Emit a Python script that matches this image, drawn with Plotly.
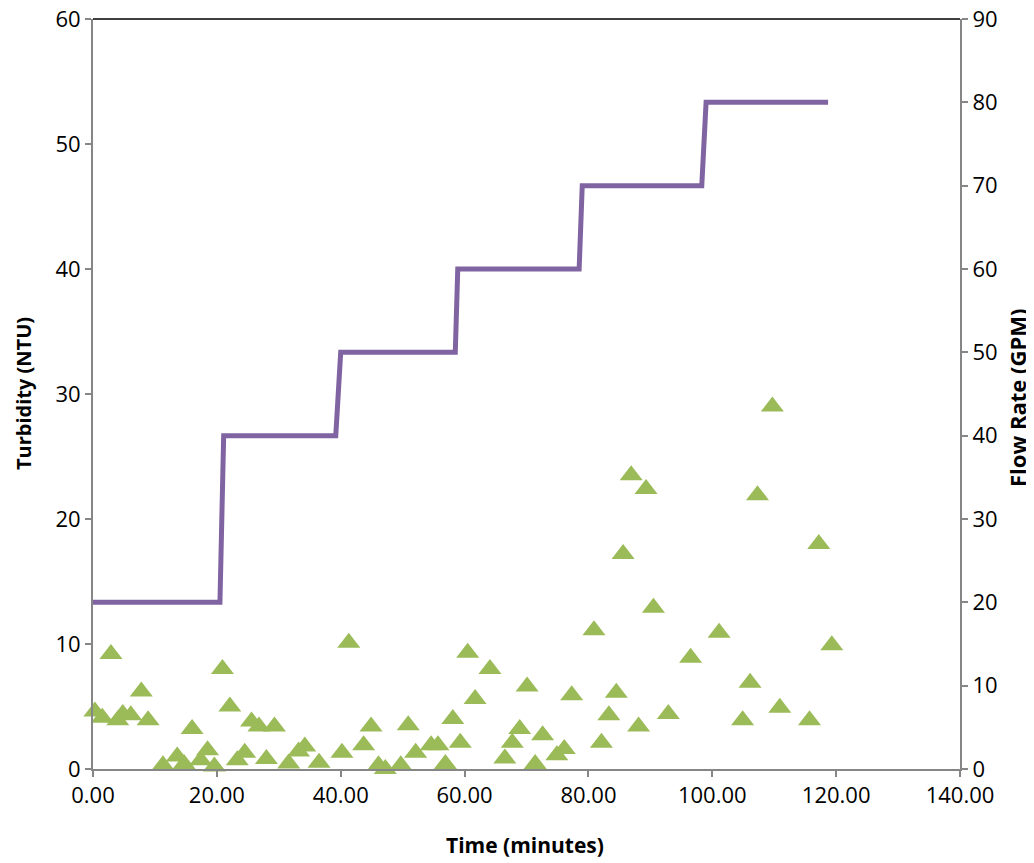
import plotly.graph_objects as go

# Flow rate (step line), right axis
flow_time = [0, 20.5, 21.1, 39.2, 40.0, 58.5, 58.9, 78.5, 79.0, 98.3, 99.0, 118.7]
flow_gpm = [20, 20, 40, 40, 50, 50, 60, 60, 70, 70, 80, 80]

# Turbidity measurements, left axis
turb_time = [0.3, 1.5, 2.9, 4.0, 4.8, 6.1, 7.8, 8.9, 11.3, 13.6, 14.7, 16.0, 17.4, 18.5,
             19.6, 20.9, 22.1, 23.3, 24.5, 25.6, 26.8, 28.0, 29.3, 31.6, 33.2, 34.2, 36.5,
             40.2, 41.3, 43.7, 44.9, 46.1, 47.2, 49.7, 50.9, 52.1, 54.6, 55.7, 56.9, 58.1,
             59.3, 60.5, 61.7, 64.1, 66.5, 67.7, 68.9, 70.1, 71.4, 72.6, 74.9, 76.1, 77.3,
             80.9, 82.1, 83.3, 84.5, 85.6, 86.9, 88.1, 89.3, 90.5, 92.9, 96.5, 101.1, 104.9,
             106.1, 107.3, 109.7, 110.9, 115.7, 117.2, 119.3]
turb_ntu = [4.6, 4.1, 9.2, 3.9, 4.4, 4.3, 6.2, 3.9, 0.3, 1.0, 0.4, 3.2, 0.7, 1.5,
            0.2, 8.0, 5.0, 0.7, 1.3, 3.8, 3.4, 0.8, 3.4, 0.45, 1.4, 1.8, 0.5,
            1.3, 10.1, 1.9, 3.4, 0.3, 0.0, 0.3, 3.5, 1.3, 1.9, 1.9, 0.4, 4.0,
            2.1, 9.3, 5.6, 8.0, 0.85, 2.1, 3.2, 6.6, 0.4, 2.7, 1.1, 1.6, 5.9,
            11.1, 2.1, 4.3, 6.1, 17.2, 23.5, 3.4, 22.4, 12.9, 4.4, 8.9, 10.9, 3.9,
            6.9, 21.9, 29.0, 4.9, 3.9, 18.0, 9.9]

x_ticks = [0, 20, 40, 60, 80, 100, 120, 140]

FONT = "Open Sans"
AX = "#868686"

fig = go.Figure()
fig.add_trace(go.Scatter(x=flow_time, y=flow_gpm, yaxis="y2", mode="lines",
                         line=dict(color="#8064A2", width=5), showlegend=False,
                         cliponaxis=False))
fig.add_trace(go.Scatter(x=turb_time, y=turb_ntu, mode="markers",
                         marker=dict(symbol="triangle-up", size=20, color="#9BBB59"),
                         showlegend=False, cliponaxis=False))

axis_common = dict(showgrid=False, zeroline=False, showline=True, linecolor=AX,
                   linewidth=2, ticks="outside", tickcolor=AX, ticklen=6, tickwidth=2,
                   automargin=False, ticklabeloverflow="allow",
                   tickfont=dict(family=FONT, size=22, color="black"))

# page has an 8px body margin; compensate so the plot area sits at 93..960 x 19..769
fig.update_layout(
    width=1026, height=855,
    margin=dict(l=85, r=74, t=11, b=94, autoexpand=False),
    paper_bgcolor="white", plot_bgcolor="white",
    xaxis=dict(range=[0, 140], tickvals=x_ticks,
               ticktext=[f"{v:.2f}" for v in x_ticks], **axis_common),
    yaxis=dict(range=[0, 60], dtick=10, **axis_common),
    yaxis2=dict(range=[0, 90], dtick=10, overlaying="y", side="right", **axis_common),
    shapes=[dict(type="line", xref="paper", yref="paper", x0=0, x1=1, y0=1, y1=1,
                 line=dict(color="black", width=1.5))],
    annotations=[
        dict(text="<b>Time (minutes)</b>", xref="paper", yref="paper",
             x=(525 - 93) / 867, y=(769 - 845) / 750, showarrow=False,
             font=dict(family=FONT, size=21, color="black"), xanchor="center", yanchor="middle"),
        dict(text="<b>Turbidity (NTU)</b>", xref="paper", yref="paper",
             x=(23 - 93) / 867, y=(769 - 394) / 750, showarrow=False, textangle=-90,
             font=dict(family=FONT, size=20, color="black"), xanchor="center", yanchor="middle"),
        dict(text="<b>Flow Rate (GPM)</b>", xref="paper", yref="paper",
             x=(1017 - 93) / 867, y=(769 - 398) / 750, showarrow=False, textangle=-90,
             font=dict(family=FONT, size=22, color="black"), xanchor="center", yanchor="middle"),
    ],
)

fig.write_html("out.html")
